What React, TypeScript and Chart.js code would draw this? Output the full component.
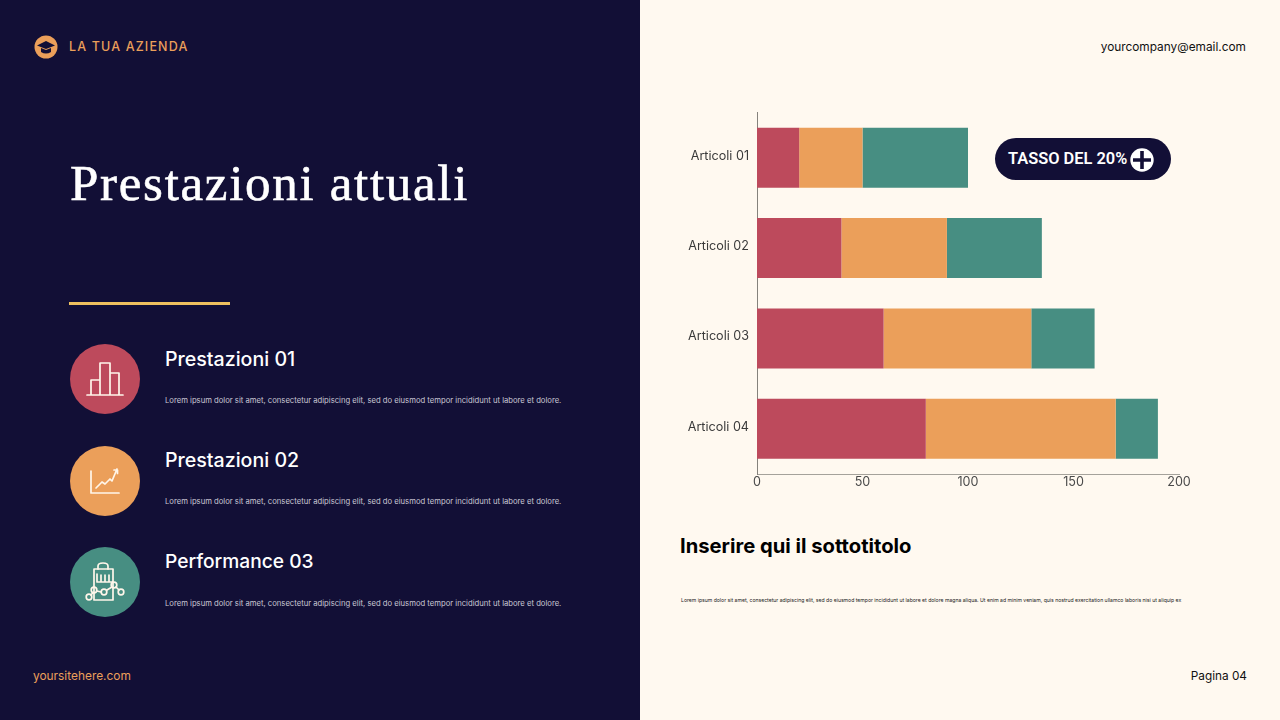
import React, { useEffect, useRef } from "react";
import { Chart, registerables } from "chart.js";

Chart.register(...registerables);

const categories = ["Articoli 01", "Articoli 02", "Articoli 03", "Articoli 04"];
const seriesRed = [20, 40, 60, 80];
const seriesOrange = [30, 50, 70, 90];
const seriesTeal = [50, 45, 30, 20];
const xTicks = [0, 50, 100, 150, 200];

const NAVY = "#120f36";
const CREAM = "#fff9f0";
const RED = "#bd4a5c";
const ORANGE = "#eb9f5a";
const TEAL = "#478e82";
const LOREM = "Lorem ipsum dolor sit amet, consectetur adipiscing elit, sed do eiusmod tempor incididunt ut labore et dolore.";
const LOREM_LONG = "Lorem ipsum dolor sit amet, consectetur adipiscing elit, sed do eiusmod tempor incididunt ut labore et dolore magna aliqua. Ut enim ad minim veniam, quis nostrud exercitation ullamco laboris nisi ut aliquip ex";
const UI = "Inter, 'Noto Sans', sans-serif";

function T({ x, y, size, color, children, weight = 400, font = UI, spacing = 0, right, stroke }: any) {
  const style: any = {
    position: "absolute", top: y, height: 0, lineHeight: 0, fontSize: size, color, fontWeight: weight,
    fontFamily: font, letterSpacing: spacing, whiteSpace: "nowrap",
  };
  if (stroke) style.WebkitTextStroke = `${stroke}px ${color}`;
  if (right !== undefined) style.right = right; else style.left = x;
  return <div style={style}>{children}</div>;
}

function Circle({ y, color, children }: any) {
  return (
    <svg width={70} height={70} viewBox="0 0 70 70" style={{ position: "absolute", left: 70, top: y }}>
      <circle cx={35} cy={35} r={35} fill={color} />
      <g fill="none" stroke="#fff6ea" strokeWidth={1.7} strokeLinejoin="round" strokeLinecap="round">{children}</g>
    </svg>
  );
}

function App() {
  const ref = useRef<HTMLCanvasElement>(null);
  useEffect(() => {
    const font = { family: "Inter", size: 12.6 };
    const chart = new Chart(ref.current!, {
      type: "bar",
      data: {
        labels: categories,
        datasets: [
          { label: "Serie 1", data: seriesRed, backgroundColor: RED },
          { label: "Serie 2", data: seriesOrange, backgroundColor: ORANGE },
          { label: "Serie 3", data: seriesTeal, backgroundColor: TEAL },
        ],
      },
      options: {
        indexAxis: "y",
        animation: false,
        responsive: false,
        devicePixelRatio: 1,
        barPercentage: 0.664,
        categoryPercentage: 1,
        layout: { autoPadding: false, padding: { top: 0, right: 21, left: 0, bottom: 0 } },
        plugins: { legend: { display: false }, tooltip: { enabled: false }, title: { display: false } },
        scales: {
          x: {
            stacked: true, min: 0, max: 200,
            afterBuildTicks: (s: any) => { s.ticks = xTicks.map((value) => ({ value })); },
            afterFit: (s: any) => { s.height = 26; },
            grid: { display: false, drawTicks: false },
            border: { display: true, color: "#a5a29b", width: 1 },
            ticks: { color: "#4a4a4a", font, padding: 1, maxRotation: 0 },
          },
          y: {
            stacked: true,
            afterFit: (s: any) => { s.width = 97; },
            grid: { display: false, drawTicks: false },
            border: { display: true, color: "#85827c", width: 1 },
            ticks: { color: "#3a3a3a", font, padding: 8, labelOffset: -2 },
          },
        },
      } as any,
    });
    return () => chart.destroy();
  }, []);

  return (
    <div style={{ position: "fixed", left: 0, top: 0, width: 1280, height: 720, overflow: "hidden", background: CREAM }}>
      <div style={{ position: "absolute", left: 0, top: 0, width: 640, height: 720, background: NAVY }} />

      <svg width={24} height={24} viewBox="0 0 24 24" style={{ position: "absolute", left: 34, top: 35 }}>
        <circle cx={12} cy={12} r={11.5} fill={ORANGE} />
        <path d="M12 6 L21 10.5 L12 14 L3 10.5 Z" fill={NAVY} />
        <path d="M7 13 V17 Q12 20 17 17 V13 L12 15 Z" fill={NAVY} />
      </svg>
      <T x={69} y={47} size={12.5} color={ORANGE} weight={500} spacing={1.15}>LA TUA AZIENDA</T>
      <T x={70} y={183} size={51} color="#ffffff" stroke={0.6} font="'Liberation Serif', serif" spacing={1.7}>Prestazioni attuali</T>
      <div style={{ position: "absolute", left: 69, top: 302, width: 161, height: 2.5, background: "#eec05f" }} />

      <Circle y={344} color={RED}>
        <path d="M17 51 H53 M21 51 V36 H30 V51 M30 51 V19 H40 V51 M40 51 V29 H49 V51" />
      </Circle>
      <T x={165} y={359} size={19.6} color="#ffffff" weight={500}>Prestazioni 01</T>
      <T x={165} y={401} size={7.68} color="#c9c7d4">{LOREM}</T>

      <Circle y={446} color={ORANGE}>
        <path d="M21 25 V47 H49 M26 42 L32 36 L35 38 L40 33 L42 35 L47 23 M44 24 H47.5 V27.5" />
      </Circle>
      <T x={165} y={460} size={19.6} color="#ffffff" weight={500}>Prestazioni 02</T>
      <T x={165} y={502} size={7.68} color="#c9c7d4">{LOREM}</T>

      <Circle y={547} color={TEAL}>
        <path d="M24 22 H43 V53 H24 Z M27 27 V35 H42 M31 28 V35 M35 28 V35 M39 28 V35" />
        <path d="M28 22 V19 Q28 16 33 16 Q38 16 38 19 V22" />
        <circle cx={19} cy={50} r={2.8} /><circle cx={24} cy={43} r={2.8} /><circle cx={34} cy={45} r={2.8} /><circle cx={44} cy={38} r={2.8} /><circle cx={51} cy={45} r={2.8} />
        <path d="M21 48 L23 45.5 M27 44 L31 45 M37 43 L42 40 M46 40 L49 43" />
      </Circle>
      <T x={165} y={561} size={19.2} color="#ffffff" weight={500}>Performance 03</T>
      <T x={165} y={604} size={7.68} color="#c9c7d4">{LOREM}</T>

      <T x={33} y={676} size={11.9} color={ORANGE}>yoursitehere.com</T>

      <T right={34} y={47} size={11.85} color="#111">yourcompany@email.com</T>
      <T right={33} y={676} size={11.8} color="#111">Pagina 04</T>

      <canvas ref={ref} width={540} height={403} style={{ position: "absolute", left: 660, top: 97, width: 540, height: 403 }} />

      <div style={{ position: "absolute", left: 995, top: 138, width: 176, height: 42, borderRadius: 21, background: NAVY }} />
      <T x={1008} y={159} size={16.4} color="#ffffff" weight={600} font="Roboto, sans-serif">TASSO DEL 20%</T>
      <svg width={24} height={24} viewBox="0 0 24 24" style={{ position: "absolute", left: 1129.5, top: 147.5 }}>
        <circle cx={12} cy={12} r={11.7} fill="#fff" />
        <path d="M12 3 V21 M3 12 H21" stroke={NAVY} strokeWidth={3.6} />
      </svg>

      <T x={680} y={546} size={20.2} color="#000" weight={700}>Inserire qui il sottotitolo</T>
      <T x={681} y={600} size={5.12} color="#222">{LOREM_LONG}</T>
    </div>
  );
}

export default App;
